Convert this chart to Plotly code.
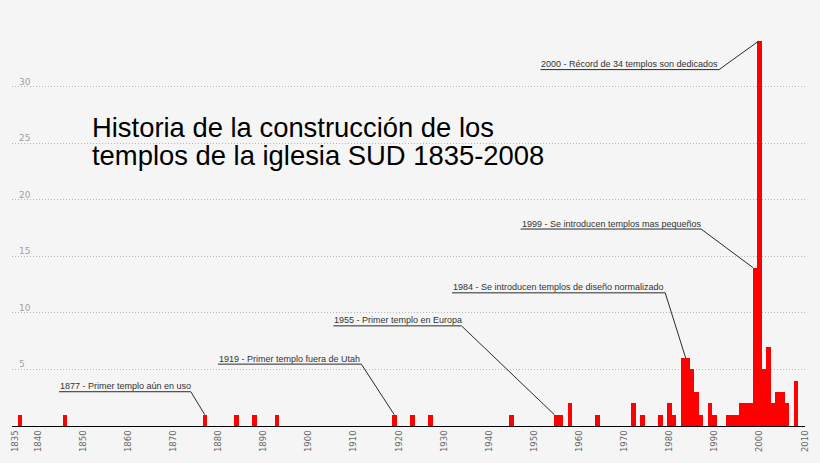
import plotly.graph_objects as go

# temples dedicated per year (only years with at least one dedication)
years = [1836, 1846, 1877, 1884, 1888, 1893, 1919, 1923, 1927, 1945,
         1955, 1956, 1958, 1964, 1972, 1974, 1978, 1980, 1981, 1983,
         1984, 1985, 1986, 1987, 1989, 1990, 1993, 1994, 1995, 1996,
         1997, 1998, 1999, 2000, 2001, 2002, 2003, 2004, 2005, 2006, 2008]
counts = [1, 1, 1, 1, 1, 1, 1, 1, 1, 1,
          1, 1, 2, 1, 2, 1, 1, 2, 1, 6,
          6, 5, 3, 1, 2, 1, 1, 1, 1, 2,
          2, 2, 14, 34, 5, 7, 2, 3, 3, 2, 4]

x_ticks = [1835] + list(range(1840, 2011, 10))
y_ticks = [5, 10, 15, 20, 25, 30]

event_years = [1877, 1919, 1955, 1984, 1999, 2000]
event_labels = [
    "1877 - Primer templo aún en uso",
    "1919 - Primer templo fuera de Utah",
    "1955 - Primer templo en Europa",
    "1984 - Se introducen templos de diseño normalizado",
    "1999 - Se introducen templos mas pequeños",
    "2000 - Récord de 34 templos son dedicados",
]

# label placement (underline left/right end and height, in axis units)
label_left = [1844.7, 1879.9, 1905.5, 1931.8, 1947.0, 1951.4]
label_right = [1873.9, 1911.7, 1933.9, 1979.05, 1987.0, 1991.0]
label_y = [3.03, 5.47, 8.85, 11.77, 17.41, 31.5]
leader_dx = [0, 0, -0.5, -0.4, -0.5, -0.3]

title_lines = ["Historia de la construcción de los",
               "templos de la iglesia SUD 1835-2008"]

bg = "#f5f5f5"

fig = go.Figure(
    go.Bar(
        x=years,
        y=counts,
        width=1,
        marker=dict(color="#ff0000", line=dict(width=0)),
        hoverinfo="x+y",
    )
)

shapes = []
annotations = []
lookup = dict(zip(years, counts))
for yr, txt, xl, xr, yu, dx in zip(event_years, event_labels, label_left,
                                   label_right, label_y, leader_dx):
    shapes.append(dict(
        type="path", xref="x", yref="y",
        path=f"M {xl},{yu} L {xr},{yu} L {yr + dx},{lookup[yr]}",
        line=dict(color="#2a2a2a", width=1),
    ))
    annotations.append(dict(
        x=xl, y=yu, xref="x", yref="y", xanchor="left", yanchor="middle",
        yshift=5.5, text=txt, showarrow=False, borderpad=0,
        font=dict(family="Liberation Sans, Arial", size=9, color="#333333"),
    ))

# y tick labels sit just above the grid lines, inside the plot
for v in y_ticks:
    annotations.append(dict(
        x=0.0075, y=v, xref="paper", yref="y", xanchor="left",
        yanchor="bottom", yshift=-1, text=str(v), showarrow=False,
        borderpad=0,
        font=dict(family="DejaVu Sans", size=9, color="#a0a0a0"),
    ))

for i, line in enumerate(title_lines):
    annotations.append(dict(
        x=0.0994, y=[0.7534, 0.682][i], xref="paper", yref="paper",
        xanchor="left", yanchor="middle", text=line, showarrow=False,
        borderpad=0,
        font=dict(family="Liberation Sans, Arial", size=27.4, color="#000000"),
    ))

fig.update_layout(
    width=820,
    height=463,
    margin=dict(l=10, r=12, t=29.5, b=37),
    paper_bgcolor=bg,
    plot_bgcolor=bg,
    showlegend=False,
    bargap=0,
    shapes=shapes,
    annotations=annotations,
    xaxis=dict(
        range=[1834.27, 2010.04],
        tickvals=x_ticks,
        ticktext=[str(t) for t in x_ticks],
        tickangle=-90,
        ticklabeloverflow="allow",
        tickfont=dict(family="DejaVu Sans", size=8.5, color="#666666"),
        showgrid=False,
        zeroline=False,
        showline=True,
        linecolor="#000000",
        linewidth=1,
        ticks="",
    ),
    yaxis=dict(
        range=[0, 35],
        tickvals=y_ticks,
        showticklabels=False,
        showgrid=True,
        gridcolor="#b8b8b8",
        griddash="1px,2px",
        gridwidth=1,
        zeroline=False,
        showline=False,
        ticks="",
    ),
)

fig.write_html("out.html", config={"displayModeBar": False},
               post_script="document.body.style.margin='0';")
